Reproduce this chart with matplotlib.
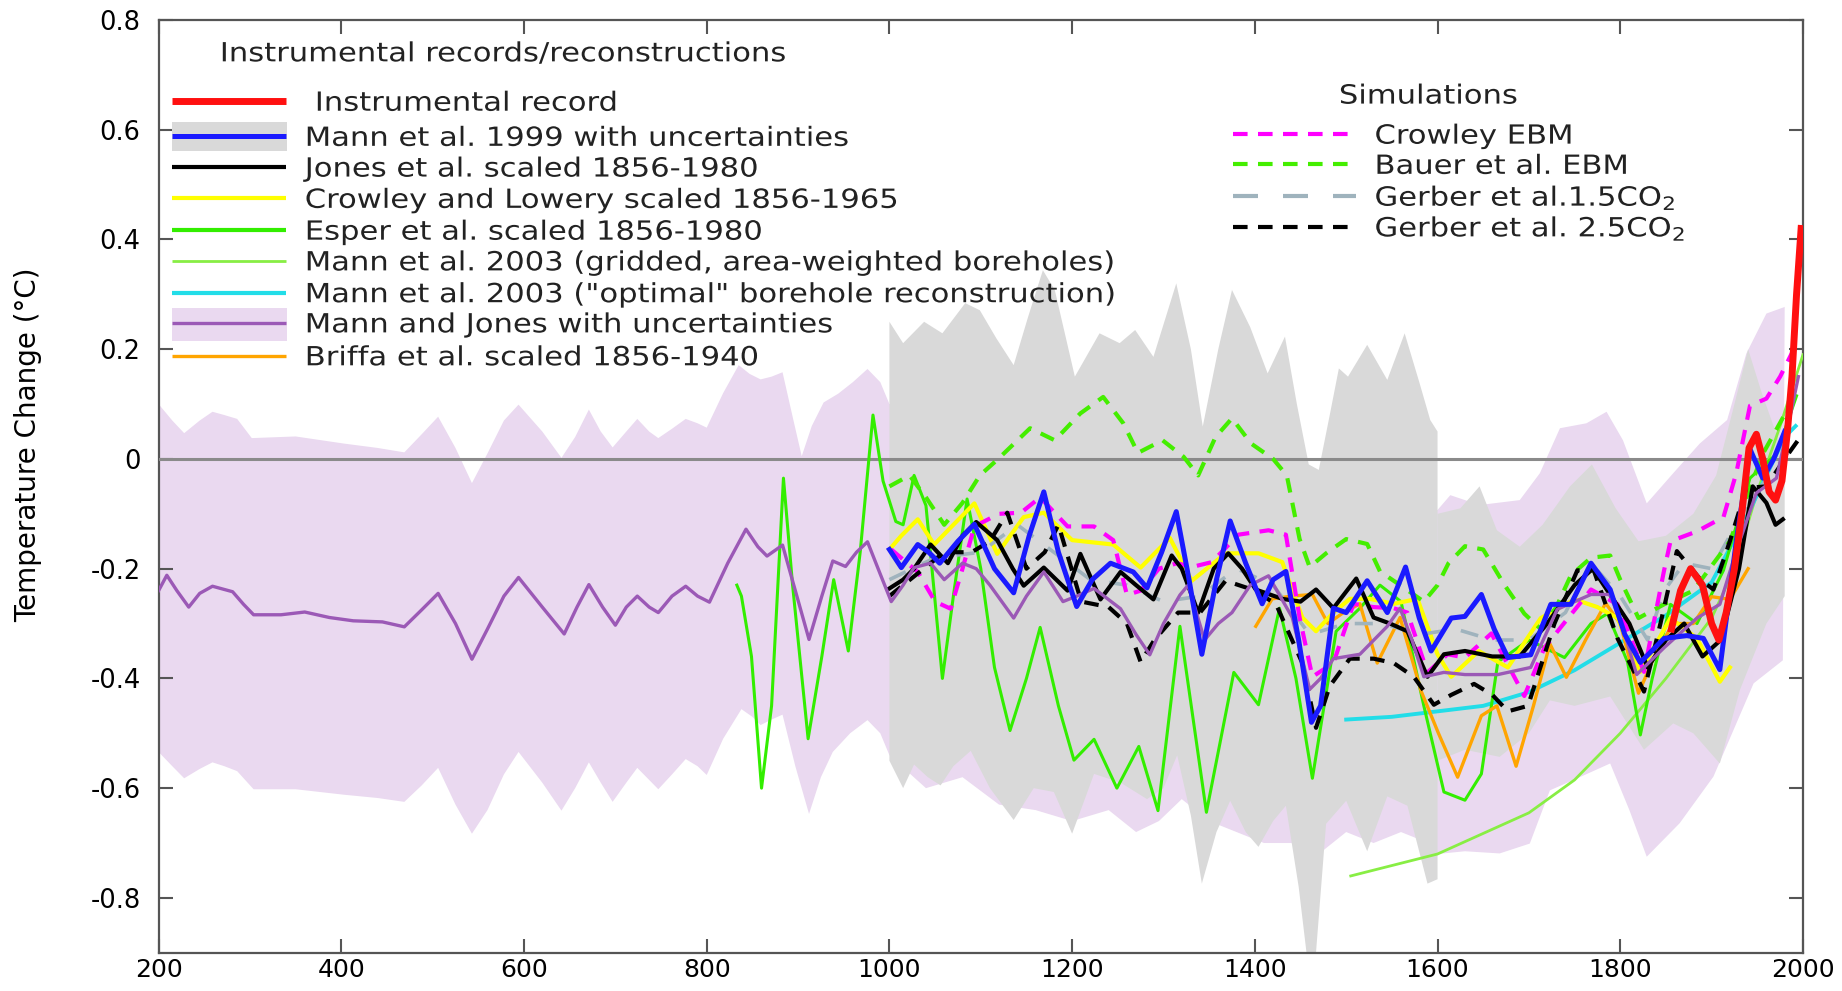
import matplotlib
matplotlib.use("Agg")
import matplotlib.pyplot as plt
import matplotlib.transforms as mtransforms
from matplotlib.textpath import TextPath
from matplotlib.patches import PathPatch
from matplotlib.font_manager import FontProperties
import numpy as np

plt.rcParams['font.family'] = ['DejaVu Sans']

# Mann and Jones: mean line and uncertainty band
mj_years = [200, 209, 220, 233, 245, 259, 281, 293, 304, 334, 360, 387, 413, 445, 469, 488, 506, 525, 543, 560,
            578, 594, 620, 644, 658, 671, 686, 700, 712, 724, 737, 747, 762, 777, 790, 803, 823, 843, 856, 866,
            883, 897, 912, 926, 938, 952, 964, 976, 990, 1002, 1015, 1027, 1045, 1060, 1080, 1095, 1110, 1136, 1150, 1169,
            1190, 1205, 1224, 1253, 1270, 1285, 1300, 1318, 1327, 1345, 1360, 1375, 1395, 1415, 1441, 1460, 1472, 1486, 1515, 1545,
            1559, 1572, 1585, 1607, 1630, 1666, 1702, 1731, 1768, 1789, 1805, 1818, 1848, 1884, 1909, 1927, 1949, 1971, 1985, 1995]
mj_mean = [-0.24, -0.212, -0.24, -0.27, -0.245, -0.232, -0.242, -0.265, -0.284, -0.284, -0.279, -0.289, -0.295, -0.297, -0.306, -0.275, -0.245, -0.3, -0.365, -0.31,
           -0.25, -0.216, -0.27, -0.319, -0.27, -0.229, -0.27, -0.303, -0.27, -0.25, -0.27, -0.28, -0.25, -0.232, -0.25, -0.261, -0.19, -0.128, -0.16, -0.177,
           -0.157, -0.24, -0.329, -0.25, -0.186, -0.196, -0.17, -0.151, -0.21, -0.26, -0.23, -0.198, -0.19, -0.22, -0.19, -0.2, -0.23, -0.29, -0.25, -0.206,
           -0.26, -0.25, -0.236, -0.273, -0.32, -0.357, -0.3, -0.248, -0.23, -0.33, -0.3, -0.28, -0.23, -0.213, -0.289, -0.42, -0.4, -0.364, -0.356, -0.305,
           -0.272, -0.33, -0.397, -0.389, -0.393, -0.393, -0.38, -0.274, -0.247, -0.247, -0.32, -0.393, -0.344, -0.29, -0.265, -0.168, -0.062, -0.035, 0.07, 0.15]

mj_hi_years = [200, 215, 228, 245, 259, 272, 286, 302, 350, 403, 440, 469, 488, 506, 525, 543, 560, 578, 594, 620,
               641, 656, 671, 684, 697, 712, 724, 737, 747, 762, 777, 790, 800, 818, 835, 847, 859, 871, 883, 895,
               904, 915, 928, 944, 960, 976, 990, 1000, 1100, 1200, 1300, 1400, 1440, 1470, 1500, 1550, 1600, 1614, 1646, 1690,
               1712, 1734, 1763, 1785, 1803, 1829, 1858, 1887, 1917, 1938, 1960, 1980]
mj_hi = [0.10, 0.07, 0.047, 0.07, 0.086, 0.08, 0.073, 0.038, 0.041, 0.028, 0.02, 0.012, 0.045, 0.077, 0.02, -0.044, 0.01, 0.07, 0.099, 0.05,
         0.002, 0.04, 0.09, 0.05, 0.021, 0.05, 0.073, 0.05, 0.038, 0.055, 0.073, 0.065, 0.057, 0.12, 0.171, 0.155, 0.145, 0.15, 0.158, 0.07,
         0.005, 0.06, 0.103, 0.119, 0.14, 0.164, 0.14, 0.1, 0.08, 0.05, 0.05, 0.0, -0.06, -0.07, -0.06, -0.08, -0.093, -0.066, -0.084, -0.075,
         -0.026, 0.056, 0.065, 0.086, 0.034, -0.081, -0.026, 0.028, 0.071, 0.192, 0.265, 0.277]

mj_lo_years = [200, 215, 228, 245, 259, 272, 286, 304, 350, 403, 440, 469, 488, 506, 525, 543, 560, 578, 594, 620,
               641, 656, 671, 684, 697, 712, 724, 737, 747, 762, 777, 790, 800, 818, 838, 850, 859, 871, 883, 897,
               912, 925, 938, 957, 976, 990, 1000, 1040, 1080, 1120, 1160, 1200, 1240, 1270, 1295, 1320, 1350, 1380, 1410, 1440,
               1470, 1500, 1530, 1560, 1590, 1600, 1630, 1668, 1701, 1723, 1749, 1789, 1810, 1829, 1865, 1902, 1946, 1978]
mj_lo = [-0.534, -0.56, -0.582, -0.565, -0.553, -0.56, -0.569, -0.602, -0.602, -0.612, -0.618, -0.625, -0.595, -0.563, -0.63, -0.683, -0.64, -0.575, -0.534, -0.59,
         -0.641, -0.6, -0.553, -0.59, -0.625, -0.59, -0.563, -0.585, -0.602, -0.575, -0.547, -0.56, -0.576, -0.51, -0.456, -0.47, -0.485, -0.475, -0.466, -0.56,
         -0.647, -0.58, -0.534, -0.5, -0.476, -0.5, -0.54, -0.6, -0.58, -0.63, -0.64, -0.66, -0.64, -0.68, -0.66, -0.62, -0.66, -0.68, -0.7, -0.7,
         -0.72, -0.68, -0.7, -0.68, -0.7, -0.72, -0.715, -0.719, -0.701, -0.604, -0.585, -0.555, -0.64, -0.725, -0.664, -0.579, -0.409, -0.367]

# Mann et al. 1999 uncertainty band (wide before 1600, narrow after)
m99_hi_years = [1000, 1015, 1038, 1058, 1083, 1099, 1117, 1136, 1152, 1168, 1181, 1203, 1230, 1252, 1269, 1289, 1314, 1330, 1343, 1360,
                1375, 1395, 1414, 1433, 1446, 1459, 1470, 1482, 1492, 1502, 1523, 1545, 1564, 1580, 1592, 1600]
m99_hi = [0.25, 0.211, 0.25, 0.229, 0.284, 0.271, 0.22, 0.171, 0.26, 0.344, 0.308, 0.15, 0.229, 0.211, 0.235, 0.186, 0.32, 0.2, 0.059, 0.2,
          0.308, 0.24, 0.156, 0.223, 0.1, -0.01, -0.02, 0.08, 0.165, 0.15, 0.208, 0.144, 0.229, 0.14, 0.071, 0.05]
m99_lo_years = [1000, 1015, 1027, 1042, 1056, 1070, 1089, 1110, 1136, 1158, 1180, 1200, 1224, 1253, 1282, 1300, 1315, 1330, 1342, 1358,
                1373, 1390, 1404, 1420, 1434, 1448, 1458, 1466, 1478, 1500, 1523, 1545, 1567, 1589, 1600]
m99_lo = [-0.55, -0.6, -0.557, -0.58, -0.595, -0.56, -0.532, -0.6, -0.658, -0.6, -0.607, -0.683, -0.574, -0.59, -0.62, -0.6, -0.54, -0.65, -0.774, -0.68,
          -0.623, -0.68, -0.707, -0.66, -0.632, -0.78, -0.92, -0.92, -0.665, -0.623, -0.715, -0.615, -0.632, -0.774, -0.766]
m99b_hi_years = [1600, 1625, 1646, 1665, 1690, 1715, 1745, 1769, 1795, 1820, 1850, 1880, 1905, 1925, 1940, 1955, 1970, 1980]
m99b_hi = [-0.1, -0.09, -0.05, -0.13, -0.16, -0.12, -0.05, -0.01, -0.09, -0.15, -0.14, -0.1, -0.03, 0.1, 0.2, 0.12, 0.05, 0.0]
m99b_lo_years = [1600, 1630, 1668, 1700, 1723, 1750, 1789, 1826, 1858, 1880, 1909, 1931, 1960, 1980]
m99b_lo = [-0.55, -0.53, -0.543, -0.5, -0.44, -0.45, -0.433, -0.53, -0.482, -0.5, -0.555, -0.421, -0.3, -0.25]

m99_years = [1000, 1013, 1031, 1043, 1055, 1075, 1093, 1115, 1136, 1153, 1169, 1185, 1205, 1222, 1242, 1267, 1282, 1298, 1314, 1328,
             1342, 1358, 1373, 1390, 1408, 1420, 1434, 1448, 1462, 1472, 1486, 1500, 1523, 1545, 1565, 1580, 1593, 1615, 1630, 1648,
             1662, 1677, 1702, 1724, 1746, 1768, 1789, 1805, 1822, 1848, 1873, 1891, 1909, 1927, 1942, 1956, 1968, 1980]
m99 = [-0.165, -0.198, -0.156, -0.17, -0.19, -0.15, -0.119, -0.2, -0.244, -0.14, -0.06, -0.17, -0.269, -0.22, -0.19, -0.206, -0.235, -0.17, -0.096, -0.22,
       -0.356, -0.22, -0.113, -0.19, -0.264, -0.22, -0.205, -0.33, -0.48, -0.45, -0.272, -0.28, -0.222, -0.28, -0.197, -0.29, -0.35, -0.29, -0.287, -0.247,
       -0.31, -0.362, -0.357, -0.265, -0.265, -0.19, -0.238, -0.32, -0.371, -0.327, -0.322, -0.327, -0.384, -0.15, 0.018, -0.035, 0.0, 0.05]

instr_years = [1856, 1866, 1877, 1890, 1900, 1908, 1916, 1925, 1933, 1941, 1949, 1956, 1963, 1970, 1977, 1983, 1988, 1993, 1998]
instr = [-0.31, -0.24, -0.2, -0.23, -0.3, -0.33, -0.28, -0.2, -0.1, 0.02, 0.045, 0.0, -0.06, -0.075, -0.04, 0.05, 0.15, 0.3, 0.42]

jones_years = [1000, 1015, 1027, 1045, 1064, 1080, 1095, 1118, 1135, 1147, 1169, 1195, 1209, 1231, 1253, 1270, 1289, 1309, 1320, 1338,
               1355, 1371, 1386, 1401, 1430, 1450, 1467, 1486, 1511, 1530, 1548, 1567, 1589, 1607, 1630, 1660, 1690, 1720, 1750, 1770,
               1790, 1810, 1830, 1850, 1870, 1890, 1910, 1930, 1945, 1960, 1970, 1978]
jones = [-0.236, -0.22, -0.2, -0.156, -0.19, -0.14, -0.115, -0.148, -0.2, -0.231, -0.198, -0.24, -0.173, -0.256, -0.206, -0.23, -0.256, -0.176, -0.2, -0.28,
         -0.2, -0.172, -0.2, -0.238, -0.255, -0.26, -0.238, -0.272, -0.218, -0.289, -0.3, -0.314, -0.397, -0.356, -0.35, -0.36, -0.36, -0.3, -0.23, -0.2,
         -0.25, -0.3, -0.38, -0.33, -0.3, -0.36, -0.33, -0.2, -0.05, -0.08, -0.12, -0.11]

crowley_years = [1000, 1013, 1031, 1049, 1070, 1093, 1118, 1147, 1169, 1200, 1245, 1275, 1307, 1331, 1368, 1404, 1430, 1452, 1467, 1486,
                 1504, 1526, 1552, 1578, 1600, 1615, 1645, 1677, 1713, 1750, 1775, 1797, 1822, 1855, 1884, 1909, 1920]
crowley = [-0.165, -0.14, -0.11, -0.156, -0.12, -0.081, -0.173, -0.106, -0.098, -0.148, -0.156, -0.198, -0.144, -0.222, -0.172, -0.172, -0.188, -0.289, -0.314, -0.28,
           -0.255, -0.255, -0.264, -0.255, -0.356, -0.397, -0.35, -0.38, -0.29, -0.256, -0.27, -0.29, -0.388, -0.29, -0.327, -0.406, -0.38]

esper_years = [833, 838, 849, 860, 871, 884, 894, 911, 926, 939, 955, 968, 982, 993, 1007, 1015, 1027, 1040, 1058, 1070,
               1085, 1100, 1115, 1132, 1150, 1165, 1185, 1202, 1224, 1249, 1273, 1294, 1318, 1347, 1377, 1404, 1427, 1445, 1463, 1489,
               1515, 1537, 1560, 1585, 1607, 1630, 1648, 1666, 1700, 1739, 1768, 1786, 1808, 1822, 1835, 1855, 1884, 1913, 1942, 1971, 1993]
esper = [-0.23, -0.25, -0.36, -0.6, -0.45, -0.035, -0.23, -0.51, -0.36, -0.22, -0.35, -0.17, 0.08, -0.04, -0.114, -0.12, -0.03, -0.085, -0.4, -0.25,
         -0.073, -0.2, -0.38, -0.495, -0.4, -0.307, -0.45, -0.549, -0.511, -0.6, -0.524, -0.641, -0.305, -0.644, -0.389, -0.448, -0.272, -0.4, -0.582, -0.314,
         -0.272, -0.23, -0.26, -0.45, -0.607, -0.622, -0.574, -0.37, -0.33, -0.362, -0.3, -0.282, -0.37, -0.503, -0.4, -0.265, -0.3, -0.203, -0.035, 0.009, 0.115]

grid_years = [1505, 1600, 1700, 1750, 1800, 1850, 1900, 1925, 1950, 1975, 2000]
grid_bh = [-0.76, -0.72, -0.645, -0.585, -0.5, -0.4, -0.29, -0.2, -0.06, 0.06, 0.19]

opt_years = [1500, 1550, 1600, 1650, 1700, 1750, 1800, 1850, 1900, 1940, 1960, 1980, 1992]
opt_bh = [-0.475, -0.47, -0.46, -0.45, -0.425, -0.385, -0.335, -0.285, -0.225, -0.1, -0.03, 0.04, 0.06]

briffa_years = [1401, 1419, 1440, 1463, 1480, 1497, 1515, 1534, 1559, 1582, 1601, 1622, 1648, 1665, 1686, 1705, 1723, 1741, 1762, 1784,
                1800, 1820, 1840, 1858, 1880, 1900, 1920, 1940]
briffa = [-0.305, -0.255, -0.25, -0.247, -0.3, -0.28, -0.264, -0.372, -0.289, -0.423, -0.5, -0.58, -0.468, -0.45, -0.56, -0.45, -0.337, -0.398, -0.33, -0.263,
          -0.3, -0.427, -0.35, -0.3, -0.3, -0.251, -0.256, -0.2]

crowley_ebm_years = [1002, 1031, 1050, 1067, 1080, 1093, 1120, 1144, 1165, 1195, 1224, 1245, 1260, 1275, 1295, 1315, 1331, 1353, 1382, 1415,
                     1434, 1449, 1463, 1486, 1508, 1530, 1552, 1567, 1589, 1611, 1630, 1659, 1695, 1717, 1768, 1797, 1826, 1848, 1855, 1884,
                     1913, 1927, 1942, 1960, 1975, 1990]
crowley_ebm = [-0.165, -0.206, -0.26, -0.273, -0.2, -0.123, -0.1, -0.098, -0.07, -0.123, -0.123, -0.148, -0.248, -0.24, -0.2, -0.19, -0.197, -0.188, -0.138, -0.13,
               -0.138, -0.289, -0.397, -0.372, -0.264, -0.27, -0.272, -0.28, -0.389, -0.356, -0.362, -0.318, -0.432, -0.344, -0.238, -0.265, -0.388, -0.203, -0.15, -0.132,
               -0.106, -0.026, 0.097, 0.11, 0.15, 0.2]

bauer_years = [1000, 1022, 1040, 1060, 1080, 1099, 1119, 1154, 1181, 1209, 1234, 1256, 1272, 1299, 1322, 1338, 1357, 1375, 1396, 1420,
               1435, 1449, 1460, 1478, 1500, 1523, 1537, 1559, 1585, 1600, 1612, 1630, 1650, 1673, 1695, 1713, 1730, 1746, 1768, 1789,
               1800, 1820, 1848, 1880, 1920, 1956, 1993]
bauer = [-0.05, -0.03, -0.07, -0.12, -0.08, -0.03, 0.0, 0.056, 0.034, 0.083, 0.113, 0.065, 0.011, 0.034, 0.004, -0.03, 0.04, 0.074, 0.028, 0.0,
         -0.03, -0.146, -0.197, -0.172, -0.146, -0.155, -0.205, -0.23, -0.26, -0.23, -0.19, -0.159, -0.165, -0.229, -0.282, -0.31, -0.27, -0.212, -0.18, -0.176,
         -0.22, -0.29, -0.265, -0.24, -0.15, 0.009, 0.12]

gerber15_years = [1000, 1050, 1100, 1140, 1180, 1220, 1260, 1300, 1340, 1380, 1420, 1460, 1500, 1540, 1580, 1620, 1660, 1700, 1740, 1768,
                  1800, 1830, 1848, 1870, 1900, 1940, 1978, 1993]
gerber15 = [-0.22, -0.18, -0.17, -0.12, -0.17, -0.22, -0.23, -0.26, -0.25, -0.2, -0.23, -0.32, -0.3, -0.3, -0.32, -0.31, -0.33, -0.33, -0.28, -0.19,
            -0.25, -0.33, -0.24, -0.19, -0.2, -0.08, 0.0, 0.03]

gerber25_years = [1000, 1030, 1060, 1090, 1110, 1129, 1150, 1170, 1185, 1210, 1240, 1260, 1275, 1290, 1316, 1340, 1368, 1397, 1423, 1452,
                  1467, 1482, 1504, 1530, 1552, 1574, 1596, 1615, 1640, 1660, 1677, 1699, 1728, 1753, 1771, 1797, 1826, 1844, 1862, 1888,
                  1902, 1920, 1938, 1960, 1980, 1995]
gerber25 = [-0.25, -0.21, -0.17, -0.17, -0.15, -0.098, -0.2, -0.17, -0.12, -0.26, -0.27, -0.3, -0.37, -0.33, -0.28, -0.28, -0.222, -0.238, -0.264, -0.372,
            -0.49, -0.414, -0.364, -0.364, -0.372, -0.397, -0.448, -0.43, -0.41, -0.43, -0.46, -0.45, -0.3, -0.203, -0.203, -0.327, -0.424, -0.3, -0.168, -0.22,
            -0.238, -0.15, -0.053, -0.05, 0.0, 0.035]

lavender = '#ead9f0'
grey_band = '#d9d9d9'
purple = '#9b59b6'

fig = plt.figure(figsize=(18.42, 9.91), dpi=100)
ax = fig.add_axes([0.0861, 0.0386, 0.8927, 0.9412])

# the original lettering is wider than DejaVu, so legend text is drawn as a path stretched sideways
prop = FontProperties(family='DejaVu Sans')


def wide_text(x, y, s, size=19, sx=1.16, color='#222222'):
    tp = TextPath((0, 0), s, size=size, prop=prop)
    tr = (mtransforms.Affine2D().translate(0, -0.36 * size).scale(sx, 1).scale(fig.dpi / 72.0)
          + mtransforms.ScaledTranslation(x, y, ax.transData))
    ax.add_patch(PathPatch(tp, transform=tr, color=color, lw=0, zorder=20, clip_on=False))


# bands
ax.fill(mj_hi_years + mj_lo_years[::-1], mj_hi + mj_lo[::-1], color=lavender, lw=0, zorder=1)
ax.fill(m99_hi_years + m99_lo_years[::-1], m99_hi + m99_lo[::-1], color=grey_band, lw=0, zorder=2)
ax.fill(m99b_hi_years + m99b_lo_years[::-1], m99b_hi + m99b_lo[::-1], color=grey_band, lw=0, zorder=2)

ax.axhline(0, color='#8a8a8a', lw=2.2, zorder=3)

# reconstructions and simulations
kw = dict(solid_joinstyle='round', dash_joinstyle='round')
ax.plot(grid_years, grid_bh, color='#88ee44', lw=2, zorder=4, **kw)
ax.plot(opt_years, opt_bh, color='#22dde8', lw=2.8, zorder=4, **kw)
ax.plot(esper_years, esper, color='#33ee00', lw=2.2, zorder=5, **kw)
ax.plot(briffa_years, briffa, color='#ffa500', lw=2.4, zorder=5, **kw)
ax.plot(crowley_years, crowley, color='#ffff00', lw=3, zorder=5, **kw)
ax.plot(gerber15_years, gerber15, color='#9fb3bd', lw=2.6, dashes=(5, 5), zorder=6, **kw)
ax.plot(bauer_years, bauer, color='#44ee00', lw=3, dashes=(3.5, 2.5), zorder=6, **kw)
ax.plot(crowley_ebm_years, crowley_ebm, color='#ff00ff', lw=3, dashes=(3.5, 2.5), zorder=6, **kw)
ax.plot(jones_years, jones, color='black', lw=3, zorder=7, **kw)
ax.plot(gerber25_years, gerber25, color='black', lw=3, dashes=(3.5, 2.5), zorder=7, **kw)
ax.plot(mj_years, mj_mean, color=purple, lw=2.4, zorder=8, **kw)
ax.plot(m99_years, m99, color='#1a1aff', lw=3.6, zorder=9, **kw)
ax.plot(instr_years, instr, color='#ff1010', lw=5, zorder=10, **kw)

ax.set_xlim(200, 2000)
ax.set_ylim(-0.9, 0.8)
ax.set_xticks(range(200, 2001, 200))
ax.set_yticks([-0.8, -0.6, -0.4, -0.2, 0, 0.2, 0.4, 0.6, 0.8])
ax.set_yticklabels(['-0.8', '-0.6', '-0.4', '-0.2', '0', '0.2', '0.4', '0.6', '0.8'])
ax.tick_params(direction='in', length=10, width=1.5, colors='#555555', labelcolor='black',
               labelsize=18.5, top=True, right=True, pad=13)
ax.tick_params(axis='x', labelsize=18, pad=4)
for s in ax.spines.values():
    s.set_color('#555555')
    s.set_linewidth(1.6)

fig.text(0.0155, 0.551, 'Temperature Change (°C)', rotation=90, fontsize=20, ha='center', va='center')

# left legend: instrumental records / reconstructions
wide_text(267, 0.742, 'Instrumental records/reconstructions')
rows = [0.652, 0.588, 0.532, 0.475, 0.417, 0.361, 0.303, 0.248, 0.188]
labels = ['Instrumental record', 'Mann et al. 1999 with uncertainties', 'Jones et al. scaled 1856-1980',
          'Crowley and Lowery scaled 1856-1965', 'Esper et al. scaled 1856-1980',
          'Mann et al. 2003 (gridded, area-weighted boreholes)', 'Mann et al. 2003 ("optimal" borehole reconstruction)',
          'Mann and Jones with uncertainties', 'Briffa et al. scaled 1856-1940']
styles = [('#ff1010', 5), ('#1a1aff', 3.6), ('black', 3), ('#ffff00', 3), ('#33ee00', 3),
          ('#88ee44', 2), ('#22dde8', 3), (purple, 2.4), ('#ffa500', 2.4)]
ax.fill_between([215, 341], 0.562, 0.614, color=grey_band, lw=0, zorder=19)
ax.fill_between([215, 341], 0.215, 0.275, color=lavender, lw=0, zorder=19)
for i, (lab, (c, w)) in enumerate(zip(labels, styles)):
    ax.plot([215, 339], [rows[i], rows[i]], color=c, lw=w, solid_capstyle='butt', zorder=20)
    tx = 371 if i == 0 else 360
    wide_text(tx, rows[i], lab)

# right legend: simulations
wide_text(1492, 0.665, 'Simulations')
sim_rows = [0.592, 0.537, 0.479, 0.423]
sim_labels = ['Crowley EBM', 'Bauer et al. EBM', 'Gerber et al.1.5CO$_2$', 'Gerber et al. 2.5CO$_2$']
sim_styles = [('#ff00ff', (3.5, 2.5)), ('#44ee00', (3.5, 2.5)), ('#9fb3bd', (6, 6)), ('black', (3.5, 2.5))]
for i, (lab, (c, d)) in enumerate(zip(sim_labels, sim_styles)):
    ax.plot([1376, 1511], [sim_rows[i], sim_rows[i]], color=c, lw=3, dashes=d, zorder=20)
    wide_text(1531, sim_rows[i], lab)

plt.savefig('out.png', dpi=100)
